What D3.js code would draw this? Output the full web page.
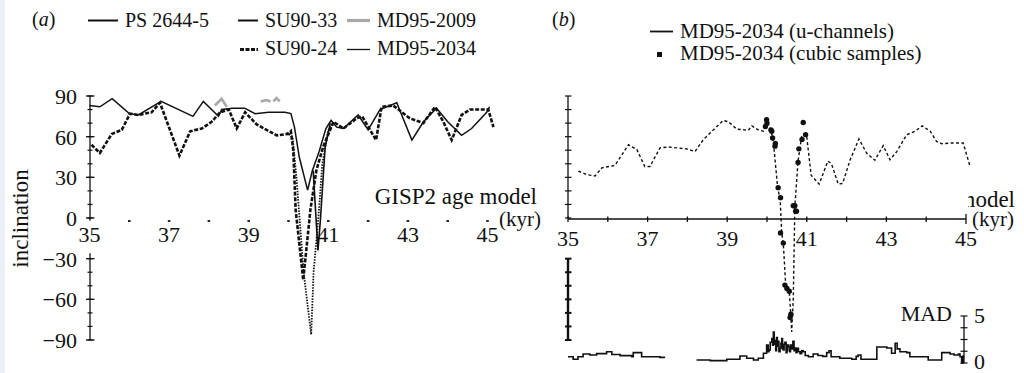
<!DOCTYPE html>
<html>
<head>
<meta charset="utf-8">
<script src="https://cdnjs.cloudflare.com/ajax/libs/d3/7.8.5/d3.min.js"></script>
<style>
  html, body { margin: 0; padding: 0; background: #fff; }
  svg { display: block; }
  text { font-family: "Liberation Serif", "Times New Roman", serif; fill: #111; }
</style>
</head>
<body>
<svg id="chart" width="1024" height="373"></svg>
<script>
// ---- (a) inclination records on the GISP2 age model: [age kyr, inclination deg]
const ps2644 = [
  [35.0, 83], [35.26, 82], [35.57, 88], [36.0, 77], [36.23, 76], [36.8, 86], [37.6, 75],
  [37.86, 86], [38.24, 75], [38.32, 80], [38.6, 81], [38.9, 81], [39.16, 77], [39.5, 78],
  [39.91, 78], [40.06, 77], [40.15, 67], [40.27, 45], [40.48, 20.6], [40.6, 35], [40.77, 49],
  [40.94, 66], [41.07, 72], [41.21, 67], [41.38, 66], [41.75, 76], [42.0, 65], [42.3, 80],
  [42.72, 85], [43.1, 57.5], [43.39, 71], [43.72, 81], [44.0, 71], [44.35, 61], [44.6, 66],
  [44.98, 78], [45.05, 82]
];
const su9033 = [
  [40.62, 35], [40.74, -24], [40.8, -2], [40.92, 52], [41.05, 70]
];
const md952009 = [
  [38.15, 83], [38.32, 88], [38.45, 82], null,
  [39.3, 86], [39.45, 87], [39.55, 86], null,
  [39.62, 86], [39.7, 88.5], [39.78, 86]
];
const su9024 = [
  [35.05, 54], [35.26, 48], [35.56, 62], [35.81, 65], [36.02, 77], [36.23, 76], [36.56, 78],
  [36.77, 85], [37.26, 46], [37.53, 64], [37.82, 66], [38.07, 71], [38.28, 78], [38.5, 80],
  [38.7, 66], [38.91, 78], [39.2, 69], [39.7, 61], [39.99, 62], [40.06, 64], [40.12, 50],
  [40.18, 6], [40.37, -45.7], [40.55, 6], [40.7, 35], [40.87, 52.5], [41.13, 71], [41.38, 66],
  [41.71, 73.5], [41.85, 75], [42.2, 57.5], [42.34, 82], [42.63, 83], [43.05, 73.5],
  [43.39, 70], [43.68, 82], [43.89, 71], [44.1, 57.5], [44.35, 76], [44.56, 80], [45.02, 80],
  [45.15, 67]
];
const md952034a = [
  [39.95, 63], [40.1, 60], [40.2, 30], [40.38, -40], [40.57, -86], [40.63, -40], [40.75, 0],
  [40.85, 40], [41.0, 65], [41.15, 70]
];

// ---- (b) MD95-2034: u-channel inclination, discrete cubic samples, MAD
const uChannel = [
  [35.26, 34.6], [35.47, 32], [35.68, 31], [35.85, 37], [36.18, 38.8], [36.52, 54], [36.73, 50.5],
  [36.93, 38], [37.06, 38], [37.31, 51.7], [37.52, 52.4], [37.98, 51], [38.19, 49], [38.4, 57.8],
  [38.65, 65], [38.9, 72], [39.03, 71], [39.24, 65.6], [39.53, 64.6], [39.62, 68], [39.78, 65],
  [39.91, 64], [39.99, 72], [40.05, 68], [40.12, 62], [40.16, 56.5], [40.27, 21.7], [40.33, 14],
  [40.37, -11], [40.41, -19], [40.47, -49.5], [40.56, -54], [40.6, -72.6], [40.62, -84],
  [40.66, -60], [40.7, 8.5], [40.78, 42], [40.83, 51.7], [40.87, 60], [40.91, 61], [40.99, 62],
  [41.11, 31.5], [41.31, 25], [41.53, 42], [41.62, 40], [41.79, 25], [41.9, 25.5], [42.09, 43],
  [42.31, 58.3], [42.5, 48], [42.71, 42.6], [42.92, 53.4], [43.09, 43], [43.26, 49], [43.51, 61.4],
  [43.72, 64], [43.9, 68], [44.1, 64], [44.26, 56.5], [44.39, 54.8], [44.6, 55.3], [44.93, 55.3],
  [45.1, 38.3]
];
const cubicSamples = [
  [39.96, 67.5], [39.99, 72.5], [40.0, 70], [40.1, 65], [40.12, 64], [40.14, 59], [40.2, 53],
  [40.21, 55], [40.28, 22.4], [40.34, 15], [40.34, -11], [40.41, -18.5], [40.45, -49.5],
  [40.5, -52], [40.56, -54], [40.6, -71], [40.58, -73.4], [40.66, 9], [40.7, 9], [40.72, 5],
  [40.74, 5], [40.78, 41], [40.8, 51], [40.88, 58], [40.91, 70.5], [40.97, 61.5]
];
const mad = [
  [35.0, 0.67], [35.13, 0.4], [35.25, 0.67], [35.38, 0.96], [35.55, 0.85], [35.72, 1.0],
  [35.97, 1.2], [36.1, 0.9], [36.31, 0.78], [36.6, 0.67], [36.64, 1.1], [36.81, 1.1],
  [36.85, 0.67], [37.06, 0.67], [37.31, 0.6], [37.44, 0.6], null,
  [38.23, 0.32], [38.57, 0.25], [38.99, 0.4], [39.32, 0.74], [39.49, 0.5], [39.66, 0.32],
  [39.78, 0.5], [39.91, 1.03], [39.99, 1.9], [40.03, 1.2], [40.05, 1.4], [40.08, 2.2],
  [40.12, 2.6], [40.14, 1.9], [40.16, 3.3], [40.18, 2.4], [40.2, 2.0], [40.22, 1.3],
  [40.24, 2.7], [40.26, 1.8], [40.28, 2.3], [40.3, 1.2], [40.33, 1.6], [40.35, 2.1],
  [40.37, 2.6], [40.39, 1.5], [40.41, 1.4], [40.43, 2.0], [40.45, 2.2], [40.48, 1.1],
  [40.5, 1.3], [40.52, 1.9], [40.54, 1.7], [40.57, 1.2], [40.59, 1.9], [40.62, 1.5],
  [40.65, 2.3], [40.68, 1.3], [40.7, 1.6], [40.73, 1.1], [40.75, 1.56], [40.79, 1.2],
  [40.83, 1.0], [40.87, 1.3], [40.91, 1.2], [40.96, 0.8], [41.04, 0.67], [41.16, 0.96],
  [41.28, 0.8], [41.4, 0.7], [41.5, 1.1], [41.56, 1.3], [41.61, 0.67], [41.83, 0.5],
  [42.13, 0.4], [42.24, 0.7], [42.29, 0.85], [42.36, 0.4], [42.71, 0.4], [42.76, 1.7],
  [43.01, 1.6], [43.13, 1.03], [43.22, 2.1], [43.27, 1.5], [43.34, 1.2], [43.51, 1.1],
  [43.59, 0.67], [43.93, 0.67], [44.05, 0.32], [44.35, 0.32], [44.39, 1.1], [44.6, 0.96],
  [44.7, 0.85], [44.81, 0.96], [44.85, 0.67], [44.89, 0], [44.93, 0.85]
];

// ---- tick sets
const ageTickLabels = [35, 37, 39, 41, 43, 45];
const ageMinorTicks = d3.range(35, 46, 1);
const incMajorTicks = [90, 60, 30, 0, -30, -60, -90];
const incMinorUpper = d3.range(0, 91, 10);
const incMinorLower = d3.range(-90, -29, 10);
const madTicks = [0, 1.25, 2.5, 3.75, 5];
const madTickLabels = [0, 5];

const svg = d3.select("#chart");

// scales
const xA = d3.scaleLinear().domain([35, 45]).range([89.5, 487.5]);
const xB = d3.scaleLinear().domain([35, 45]).range([568, 966]);
const yInc = d3.scaleLinear().domain([-90, 90]).range([340, 96]);
const yMad = d3.scaleLinear().domain([0, 5]).range([363, 316]);

// pale strip along the left edge
svg.append("rect").attr("x", 0).attr("y", 0).attr("width", 5).attr("height", 373).attr("fill", "#eaeff8");

// ---------- panel labels and legends ----------
function panelTag(x, letter) {
  const t = svg.append("text").attr("x", x).attr("y", 26).style("font-size", "20px");
  t.append("tspan").text("(");
  t.append("tspan").style("font-style", "italic").text(letter);
  t.append("tspan").text(")");
}
panelTag(32, "a");
panelTag(552, "b");

const legA = svg.append("g");
const legItems = [
  { x1: 88, x2: 118, y: 20.5, tx: 125, ty: 27, label: "PS 2644-5", stroke: "#111", w: 2 },
  { x1: 238, x2: 258, y: 20.5, tx: 265, ty: 27, label: "SU90-33", stroke: "#111", w: 2 },
  { x1: 347, x2: 370, y: 20.5, tx: 377, ty: 27, label: "MD95-2009", stroke: "#a8a8a8", w: 3.2 },
  { x1: 240, x2: 258, y: 49.5, tx: 265, ty: 55, label: "SU90-24", stroke: "#111", w: 3, dash: "4,1.5" },
  { x1: 347, x2: 370, y: 49.5, tx: 377, ty: 55, label: "MD95-2034", stroke: "#111", w: 1.3 }
];
legItems.forEach(d => {
  legA.append("line").attr("x1", d.x1).attr("x2", d.x2).attr("y1", d.y).attr("y2", d.y)
    .attr("stroke", d.stroke).attr("stroke-width", d.w).attr("stroke-dasharray", d.dash || null);
  legA.append("text").attr("x", d.tx).attr("y", d.ty).style("font-size", "20px").text(d.label);
});

const legB = svg.append("g");
legB.append("line").attr("x1", 650).attr("x2", 673).attr("y1", 31.5).attr("y2", 31.5)
  .attr("stroke", "#111").attr("stroke-width", 1.8);
legB.append("text").attr("x", 680).attr("y", 38).style("font-size", "21px").text("MD95-2034 (u-channels)");
legB.append("rect").attr("x", 657).attr("y", 52).attr("width", 5).attr("height", 5).attr("fill", "#111");
legB.append("text").attr("x", 680).attr("y", 60).style("font-size", "21px").text("MD95-2034 (cubic samples)");

// ---------- panel (a) ----------
const gA = svg.append("g");

// y axis (broken between 0 and -30)
gA.append("line").attr("x1", 90).attr("x2", 90).attr("y1", yInc(90)).attr("y2", yInc(-2))
  .attr("stroke", "#111").attr("stroke-width", 1.3);
gA.append("line").attr("x1", 90).attr("x2", 90).attr("y1", yInc(-26)).attr("y2", yInc(-90))
  .attr("stroke", "#111").attr("stroke-width", 1.3);
gA.selectAll(".minA").data(incMinorUpper.concat(incMinorLower)).join("line")
  .attr("x1", 87.5).attr("x2", 92.5).attr("y1", d => yInc(d)).attr("y2", d => yInc(d))
  .attr("stroke", "#111").attr("stroke-width", 1.2);
gA.selectAll(".majA").data(incMajorTicks).join("line")
  .attr("x1", 86).attr("x2", 94.5).attr("y1", d => yInc(d)).attr("y2", d => yInc(d))
  .attr("stroke", "#111").attr("stroke-width", 1.3);
gA.selectAll(".ylabA").data(incMajorTicks).join("text")
  .attr("x", 77).attr("y", d => yInc(d) + 8).attr("text-anchor", "end").style("font-size", "22px")
  .text(d => d < 0 ? "\u2212" + Math.abs(d) : String(d));

svg.append("text").attr("transform", `translate(27.5,218.5) rotate(-90)`).attr("text-anchor", "middle")
  .style("font-size", "23px").text("inclination");

// age axis of (a): only small tick marks
gA.selectAll(".xdotA").data(ageMinorTicks.slice(1)).join("line")
  .attr("x1", d => xA(d) - 1.3).attr("x2", d => xA(d) + 1.3).attr("y1", 221).attr("y2", 221)
  .attr("stroke", "#111").attr("stroke-width", 1.8);
gA.selectAll(".xlabA").data(ageTickLabels).join("text")
  .attr("x", d => xA(d)).attr("y", 242).attr("text-anchor", "middle").style("font-size", "22px").text(d => d);
gA.append("text").attr("x", 537).attr("y", 204).attr("text-anchor", "end").style("font-size", "23px").text("GISP2 age model");
gA.append("text").attr("x", 541).attr("y", 226).attr("text-anchor", "end").style("font-size", "21px").text("(kyr)");

const lineA = d3.line().defined(d => d != null).x(d => xA(d[0])).y(d => yInc(d[1]));
gA.append("path").datum(md952009).attr("d", lineA).attr("fill", "none")
  .attr("stroke", "#a8a8a8").attr("stroke-width", 2.6);
gA.append("path").datum(md952034a).attr("d", lineA).attr("fill", "none")
  .attr("stroke", "#111").attr("stroke-width", 1.8).attr("stroke-dasharray", "1.5,1.3");
gA.append("path").datum(su9033).attr("d", lineA).attr("fill", "none")
  .attr("stroke", "#111").attr("stroke-width", 1.6);
gA.append("path").datum(su9024).attr("d", lineA).attr("fill", "none")
  .attr("stroke", "#111").attr("stroke-width", 2.6).attr("stroke-dasharray", "4,1.6");
gA.append("path").datum(ps2644).attr("d", lineA).attr("fill", "none")
  .attr("stroke", "#111").attr("stroke-width", 1.5);

// ---------- panel (b) ----------
const gB = svg.append("g");
gB.append("text").attr("x", 1015).attr("y", 207).attr("text-anchor", "end").style("font-size", "23px").text("GISP2 age model");
gB.append("rect").attr("x", 566).attr("y", 85).attr("width", 402).attr("height", 131).attr("fill", "#fff");
gB.append("text").attr("x", 1014).attr("y", 226).attr("text-anchor", "end").style("font-size", "21px").text("(kyr)");

// upper inclination axis
gB.append("line").attr("x1", 568).attr("x2", 568).attr("y1", yInc(90)).attr("y2", yInc(0))
  .attr("stroke", "#111").attr("stroke-width", 1.3);
gB.selectAll(".tkBu").data(incMinorUpper).join("line")
  .attr("x1", 565).attr("x2", 571.5).attr("y1", d => yInc(d)).attr("y2", d => yInc(d))
  .attr("stroke", "#111").attr("stroke-width", 1.2);
// lower inclination axis (heavier)
gB.append("line").attr("x1", 568).attr("x2", 568).attr("y1", yInc(-30)).attr("y2", yInc(-90))
  .attr("stroke", "#111").attr("stroke-width", 2.4);
gB.selectAll(".tkBl").data(incMinorLower).join("line")
  .attr("x1", 565).attr("x2", 571.5).attr("y1", d => yInc(d)).attr("y2", d => yInc(d))
  .attr("stroke", "#111").attr("stroke-width", 2);

// age axis of (b)
const y0B = yInc(0) + 1;
gB.append("line").attr("x1", xB(35)).attr("x2", xB(45)).attr("y1", y0B).attr("y2", y0B)
  .attr("stroke", "#111").attr("stroke-width", 1.4);
gB.selectAll(".xtB").data(ageMinorTicks).join("line")
  .attr("x1", d => xB(d)).attr("x2", d => xB(d))
  .attr("y1", d => y0B - (d === 45 ? 5 : 2.5)).attr("y2", d => y0B + (d === 45 ? 5 : 3))
  .attr("stroke", "#111").attr("stroke-width", 1.3);
gB.selectAll(".xlabB").data(ageTickLabels).join("text")
  .attr("x", d => xB(d)).attr("y", 246).attr("text-anchor", "middle").style("font-size", "22px").text(d => d);

// MAD axis
const xMad = 964;
gB.append("line").attr("x1", xMad).attr("x2", xMad).attr("y1", yMad(5)).attr("y2", yMad(0))
  .attr("stroke", "#111").attr("stroke-width", 1.3);
gB.selectAll(".tkM").data(madTicks).join("line")
  .attr("x1", xMad - 3.5).attr("x2", xMad + 3.5).attr("y1", d => yMad(d)).attr("y2", d => yMad(d))
  .attr("stroke", "#111").attr("stroke-width", 1.2);
gB.selectAll(".labM").data(madTickLabels).join("text")
  .attr("x", 974).attr("y", d => d === 0 ? yMad(d) + 6 : yMad(d) + 7).style("font-size", "22px").text(d => d);
gB.append("text").attr("x", 952).attr("y", 321).attr("text-anchor", "end").style("font-size", "22px").text("MAD");

// MAD step curve
const madLine = d3.line().defined(d => d != null).curve(d3.curveStepAfter)
  .x(d => xB(d[0])).y(d => yMad(d[1]));
gB.append("path").datum(mad).attr("d", madLine).attr("fill", "none")
  .attr("stroke", "#111").attr("stroke-width", 1.6);

// u-channel inclination and cubic samples
const lineB = d3.line().x(d => xB(d[0])).y(d => yInc(d[1]));
gB.append("path").datum(uChannel).attr("d", lineB).attr("fill", "none")
  .attr("stroke", "#111").attr("stroke-width", 1.4).attr("stroke-dasharray", "3,2.4");
gB.selectAll(".cube").data(cubicSamples).join("circle")
  .attr("cx", d => xB(d[0])).attr("cy", d => yInc(d[1])).attr("r", 2.7).attr("fill", "#111");
</script>
</body>
</html>
